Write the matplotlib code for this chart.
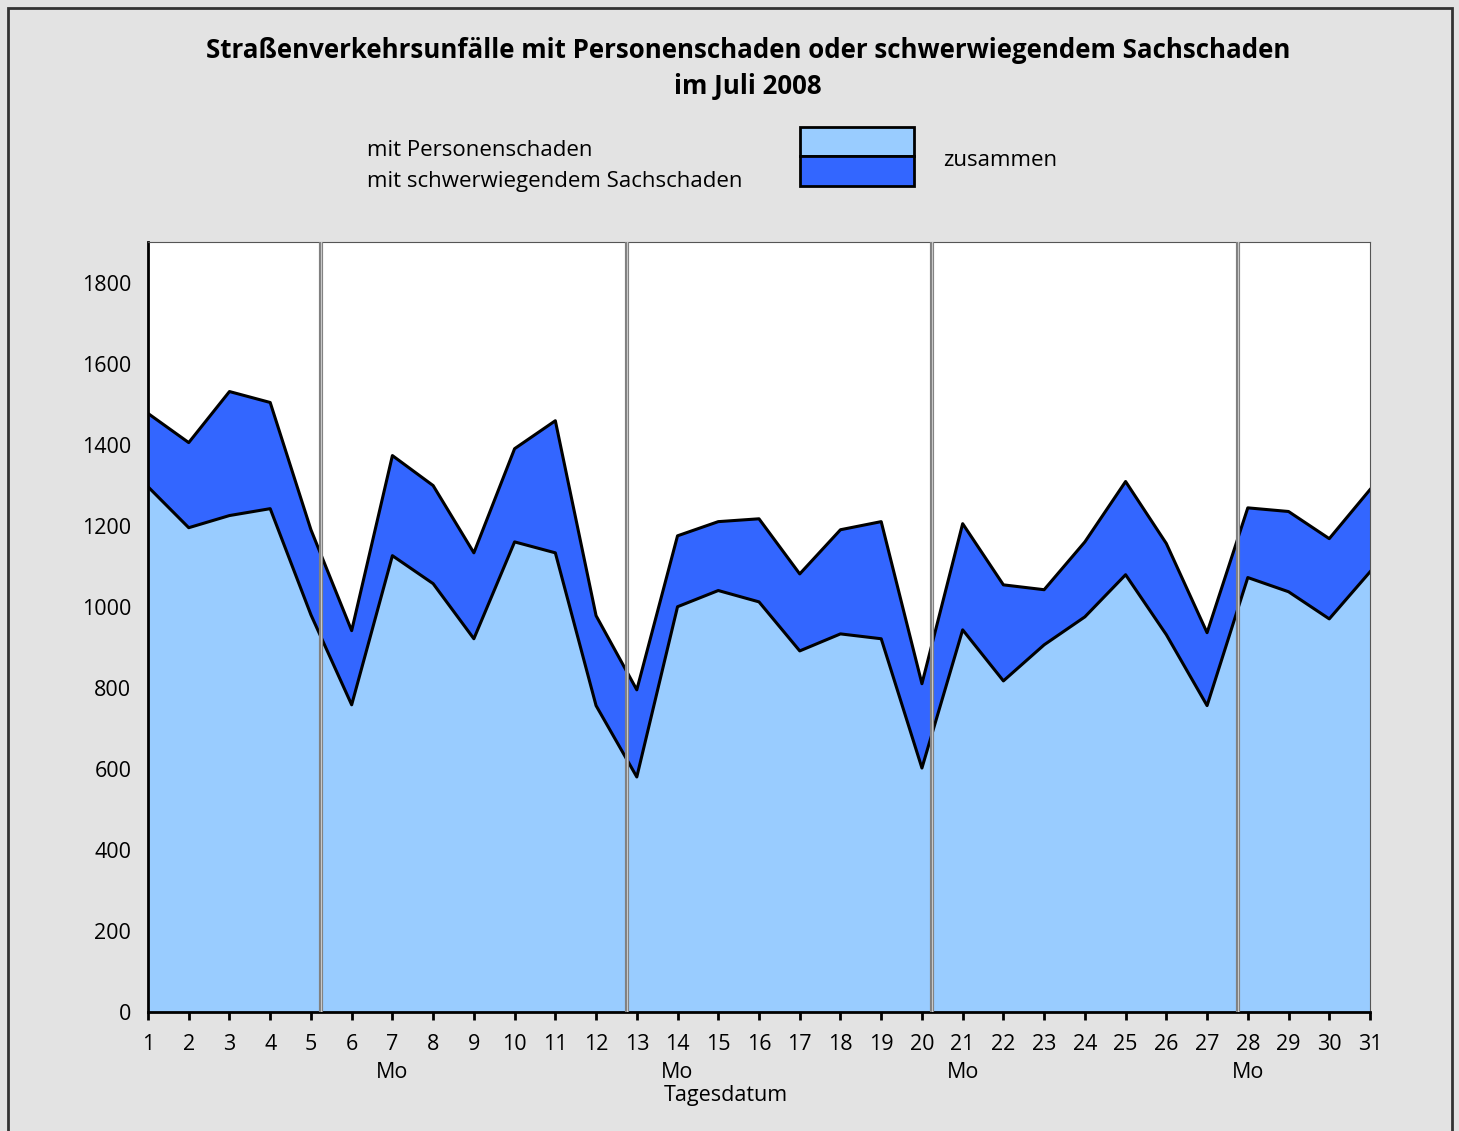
import matplotlib.pyplot as plt
from matplotlib.patches import Rectangle

# data

days = list(range(1, 32))
personen = [1296, 1195, 1225, 1242, 980, 758, 1126, 1057, 921, 1160,
            1133, 756, 580, 1000, 1040, 1012, 891, 933, 921, 602,
            943, 817, 906, 975, 1079, 931, 756, 1072, 1037, 970, 1086]
zusammen = [1477, 1405, 1531, 1504, 1190, 941, 1373, 1299, 1133, 1390,
            1459, 978, 795, 1175, 1210, 1217, 1081, 1190, 1210, 810,
            1205, 1054, 1042, 1160, 1309, 1156, 936, 1244, 1235, 1168, 1289]
week_breaks = [5.25, 12.75, 20.25, 27.75]
monday_days = [7, 14, 21, 28]
y_ticks = list(range(0, 2000, 200))

light = '#99ccff'
dark = '#3366ff'
bg = '#e3e3e3'
font = 'Open Sans'

plt.rcParams['font.family'] = [font, 'DejaVu Sans']

fig = plt.figure(figsize=(14.59, 11.31), dpi=100, facecolor=bg)
fig.patches.append(Rectangle((8 / 1459, -0.01), 1444 / 1459, 1.01 - 8 / 1131,
                             transform=fig.transFigure, fill=False,
                             edgecolor='#333333', linewidth=2))

ax = fig.add_axes([148 / 1459, 1 - 1012 / 1131, 1222 / 1459, 770 / 1131])
ax.set_facecolor('white')

ax.fill_between(days, personen, zusammen, color=dark, linewidth=0)
ax.fill_between(days, 0, personen, color=light, linewidth=0)
ax.plot(days, zusammen, color='black', linewidth=2.2)
ax.plot(days, personen, color='black', linewidth=2.2)

for xb in week_breaks:
    ax.axvline(xb, color='#808080', linewidth=3, zorder=3)
    ax.axvline(xb, color='#c8c8c8', linewidth=0.8, zorder=3)

ax.set_xlim(1, 31)
ax.set_ylim(0, 1900)
ax.set_yticks(y_ticks)
ax.set_yticklabels([str(v) for v in y_ticks], fontsize=15.5)
ax.tick_params(axis='y', length=0, pad=12)
ax.set_xticks(days)
ax.set_xticklabels([str(d) for d in days], fontsize=15.5)
ax.tick_params(axis='x', length=6, width=2, direction='out', pad=10)

for s in ['left', 'bottom']:
    ax.spines[s].set_linewidth(2)
for s in ['top', 'right']:
    ax.spines[s].set_linewidth(0.8)
    ax.spines[s].set_color('#555555')

for d in monday_days:
    ax.text(d, -150, 'Mo', ha='center', va='center', fontsize=15.5)
ax.text(15.19, -205, 'Tagesdatum', ha='center', va='center', fontsize=15.5)

title_x = 748 / 1459
fig.text(title_x, 1 - 51 / 1131, 'Straßenverkehrsunfälle mit Personenschaden oder schwerwiegendem Sachschaden',
         ha='center', va='center', fontsize=18.6, fontweight='bold')
fig.text(title_x, 1 - 87 / 1131, 'im Juli 2008',
         ha='center', va='center', fontsize=18.6, fontweight='bold')

# legend
fig.text(367 / 1459, 1 - 151 / 1131, 'mit Personenschaden', ha='left', va='center', fontsize=16)
fig.text(367 / 1459, 1 - 182 / 1131, 'mit schwerwiegendem Sachschaden', ha='left', va='center', fontsize=16)
fig.patches.append(Rectangle((800 / 1459, 1 - 156 / 1131), 114 / 1459, 29 / 1131,
                             transform=fig.transFigure, facecolor=light,
                             edgecolor='black', linewidth=2))
fig.patches.append(Rectangle((800 / 1459, 1 - 186 / 1131), 114 / 1459, 30 / 1131,
                             transform=fig.transFigure, facecolor=dark,
                             edgecolor='black', linewidth=2))
fig.text(943 / 1459, 1 - 161 / 1131, 'zusammen', ha='left', va='center', fontsize=16)

fig.savefig('out.png', dpi=100, facecolor=bg)
